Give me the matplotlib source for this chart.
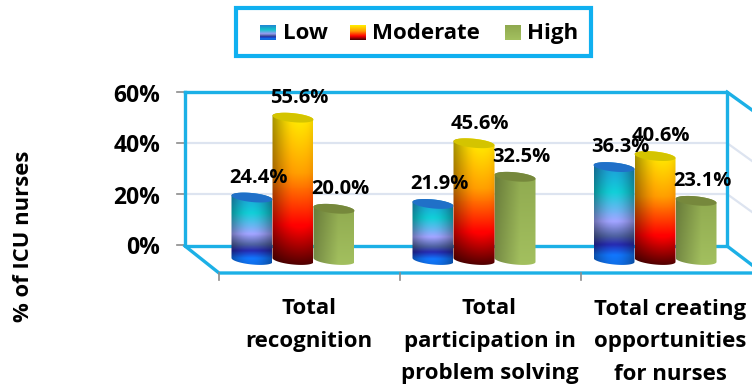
import numpy as np
import matplotlib
matplotlib.use("Agg")
import matplotlib.pyplot as plt
from matplotlib.colors import LinearSegmentedColormap
from matplotlib.patches import PathPatch, Rectangle
from matplotlib.path import Path

categories = ["Total\nrecognition", "Total\nparticipation in\nproblem solving", "Total creating\nopportunities\nfor nurses"]
series_names = ["Low", "Moderate", "High"]
low = [24.4, 21.9, 36.3]
moderate = [55.6, 45.6, 40.6]
high = [20.0, 32.5, 23.1]
y_ticks = [0, 20, 40, 60]

W, H = 752, 387
BLUE = "#1cb0e6"
GRID = "#dde4f0"
PX_PER_PCT = 2.56
GROUP_PX = 181
BAR_PX = 41
RY = 4.5 / PX_PER_PCT
TILT = 2.0 / PX_PER_PCT

plt.rcParams["font.family"] = ["Open Sans", "DejaVu Sans"]
plt.rcParams["font.weight"] = "bold"

# top-to-bottom colour stops for each cylinder
ramps = {
    "Low": [(0, "#1f86d8"), (0.08, "#1c98cc"), (0.3, "#10c4cc"), (0.58, "#9a9cf4"), (0.72, "#4a5c98"),
            (0.8, "#2428a8"), (0.9, "#1070f0"), (1, "#1068d8")],
    "Moderate": [(0, "#ffee00"), (0.4, "#ff9a00"), (0.74, "#ff0000"), (1, "#4a0000")],
    "High": [(0, "#8fa94f"), (1, "#a3c05f")],
}
lids = {"Low": "#2070c8", "Moderate": "#d4c400", "High": "#76883c"}

fig = plt.figure(figsize=(W / 100, H / 100), dpi=100)

# pixel-space layer for the 3D frame and legend
deco = fig.add_axes([0, 0, 1, 1])
deco.set_xlim(0, W)
deco.set_ylim(H, 0)
deco.axis("off")

# bars live in value space: x in groups, y in percent
ax = fig.add_axes([0, 0, 1, 1], zorder=2)
ax.patch.set_alpha(0)
ax.axis("off")
x0_px, y0_px = 293, 260
xlim = (-x0_px / GROUP_PX, (W - x0_px) / GROUP_PX)
ylim = ((y0_px - H) / PX_PER_PCT, y0_px / PX_PER_PCT)


def wall_y(v):
    return 245 - 2.55 * v


# back wall, floor and side wall
for v in y_ticks[1:3]:
    deco.plot([185, 727], [wall_y(v)] * 2, color=GRID, lw=1.6)
    deco.plot([727, 752], [wall_y(v), wall_y(v) + 18], color=GRID, lw=1.6)
for v in y_ticks:
    deco.plot([177, 185], [wall_y(v)] * 2, color="#8c8c8c", lw=1.2)
    deco.text(160, wall_y(v) + 3.5, f"{v}%", ha="right", va="center", fontsize=16.5)
deco.plot([185, 727, 727, 185, 185], [92, 92, 246, 246, 92], color=BLUE, lw=2.4)
deco.plot([185, 219, 752], [246, 273, 273], color=BLUE, lw=2.4)
deco.plot([727, 752], [92, 110], color=BLUE, lw=2.4)
deco.plot([727, 752], [246, 265], color=BLUE, lw=2.4)
for i in range(len(categories)):
    deco.plot([219 + i * GROUP_PX] * 2, [273, 280], color="#8c8c8c", lw=1.2)
    for j, line in enumerate(categories[i].split("\n")):
        deco.text(309 + i * 180.5, 309 + j * 32.5, line, ha="center", va="center", fontsize=16)

deco.text(24, 236, "% of ICU nurses", rotation=90, ha="center", va="center", fontsize=15.8)


def lid_xy(cx, cy, n=60):
    # slightly tilted ellipse, in data units
    t = np.linspace(0, 2 * np.pi, n)
    rx = BAR_PX / 2 / GROUP_PX
    return cx + rx * np.cos(t), cy + RY * np.sin(t) - TILT * np.cos(t)


def draw_cylinder(cx, value, name, zorder):
    rx = BAR_PX / 2 / GROUP_PX
    tx, ty = lid_xy(cx, value)
    # outline: lid's upper half, then the base's lower half
    t = np.linspace(0, np.pi, 30)
    top_x = cx + rx * np.cos(t)
    top_y = value + RY * np.sin(t) - TILT * np.cos(t)
    bot_x = cx - rx * np.cos(t)
    bot_y = -RY * np.sin(t) + TILT * np.cos(t)
    body = np.column_stack([np.r_[top_x, bot_x, top_x[0]], np.r_[top_y, bot_y, top_y[0]]])
    clip = PathPatch(Path(body), transform=ax.transData, facecolor="none", edgecolor="none")
    ax.add_patch(clip)

    cmap = LinearSegmentedColormap.from_list(name, ramps[name])
    rows = cmap(np.linspace(0, 1, 128))[:, :3]
    u = np.linspace(0, 1, 48)
    if name == "Moderate":
        shade = 0.62 + 0.42 * np.sin(np.pi * np.clip(u * 0.7 + 0.02, 0, 1))
    elif name == "Low":
        shade = 0.72 + 0.34 * np.sin(np.pi * u)
    else:
        shade = 0.72 + 0.28 * np.clip(u * 1.6, 0, 1)
    img = np.clip(rows[:, None, :] * shade[None, :, None], 0, 1)
    im = ax.imshow(img, extent=(cx - rx, cx + rx, -2.5, value + 2.5), aspect="auto",
                   interpolation="bilinear", zorder=zorder)
    im.set_clip_path(clip)
    ax.fill(tx, ty, color=lids[name], lw=0, zorder=zorder + 0.1)


for i, vals in enumerate(zip(low, moderate, high)):
    offsets = [-BAR_PX / GROUP_PX, 0, BAR_PX / GROUP_PX]
    orders = [3, 5, 4]
    for v, off, name, z in zip(vals, offsets, series_names, orders):
        draw_cylinder(i + off, v, name, z)
        ax.annotate(f"{v:.1f}%", (i + off, v), xytext=(4.5, 14.2), textcoords="offset points",
                    ha="center", va="center", fontsize=14.5, zorder=10)

ax.set_xlim(*xlim)
ax.set_ylim(*ylim)

# legend box
deco.add_patch(Rectangle((236, 8), 355, 48, fill=False, edgecolor="#10b0f0", lw=3))
swatches = [(260, 283), (350, 372), (505, 527)]
for name, (sx, tx) in zip(series_names, swatches):
    cmap = LinearSegmentedColormap.from_list(name + "_key", ramps[name])
    deco.imshow(cmap(np.linspace(0, 1, 32))[:, None, :3], extent=(sx, sx + 16, 40, 25), aspect="auto",
                interpolation="bilinear")
    deco.text(tx, 33.5, name, ha="left", va="center", fontsize=16)
deco.set_xlim(0, W)
deco.set_ylim(H, 0)

fig.savefig("out.png", dpi=100)
